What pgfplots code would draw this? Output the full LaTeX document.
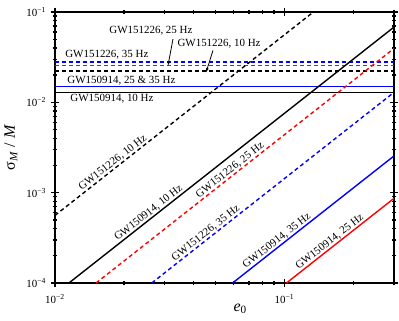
\documentclass[border=0pt]{standalone}
\usepackage{fontspec}
\setmainfont{Liberation Serif}
\usepackage{pgfplots}
\pgfplotsset{compat=1.18}
\usetikzlibrary{arrows.meta}
\definecolor{myblue}{RGB}{0,0,255}
\definecolor{myred}{RGB}{255,0,0}
\tikzset{lbl/.style={font=\fontsize{11}{13}\selectfont, inner sep=1bp}}
\begin{document}
\begin{tikzpicture}
\begin{axis}[
  xmode=log, ymode=log,
  scale only axis, width=339bp, height=271bp,
  xmin=0.01, xmax=0.3, ymin=1e-4, ymax=0.1,
  xtick={0.01,0.1}, xticklabels={10\textsuperscript{−2},10\textsuperscript{−1}},
  minor xtick={0.02,0.03,0.04,0.05,0.06,0.07,0.08,0.09,0.2,0.3},
  ytick={1e-4,1e-3,1e-2,1e-1},
  yticklabels={10\textsuperscript{−4},10\textsuperscript{−3},10\textsuperscript{−2},10\textsuperscript{−1}},
  minor ytick={2e-4,3e-4,4e-4,5e-4,6e-4,7e-4,8e-4,9e-4,2e-3,3e-3,4e-3,5e-3,6e-3,7e-3,8e-3,9e-3,2e-2,3e-2,4e-2,5e-2,6e-2,7e-2,8e-2,9e-2},
  tick align=center, major tick length=9bp, minor tick length=5bp,
  every tick/.style={black, line width=1.3bp},
  axis line style={line width=1.8bp},
  xticklabel style={font=\fontsize{11}{13}\selectfont, yshift=-3bp},
  yticklabel style={font=\fontsize{11}{13}\selectfont, xshift=-1bp},
  xlabel={\textit{e}\textsubscript{0}},
  ylabel={σ\textsubscript{\textit{M}} / \textit{M}},
  every axis x label/.style={at={(axis description cs:0.546,0)}, anchor=north, yshift=-17bp, font=\fontsize{16}{18}\selectfont},
  every axis y label/.style={at={(axis description cs:0,0.5)}, rotate=90, anchor=south, yshift=34bp, font=\fontsize{16}{18}\selectfont},
  clip mode=individual,
]
% horizontal lines
\addplot[black, line width=1.6bp] coordinates {(0.01,0.0128) (0.3,0.0128)};
\addplot[myblue, line width=1.6bp] coordinates {(0.01,0.0150) (0.3,0.0150)};
\addplot[black, line width=1.6bp, dash pattern=on 4bp off 3bp] coordinates {(0.01,0.0223) (0.3,0.0223)};
\addplot[myred, line width=1.6bp, dash pattern=on 4bp off 3bp] coordinates {(0.01,0.0255) (0.3,0.0255)};
\addplot[myblue, line width=1.6bp, dash pattern=on 4bp off 3bp] coordinates {(0.01,0.0278) (0.3,0.0278)};
% diagonal lines
\addplot[black, line width=1.4bp] coordinates {(0.0115,1e-4) (0.3,0.0681)};
\addplot[black, line width=1.4bp, dash pattern=on 4bp off 3bp] coordinates {(0.01,5.6e-4) (0.1336,0.1)};
\addplot[myred, line width=1.4bp, dash pattern=on 4bp off 3bp] coordinates {(0.0151,1e-4) (0.3,0.0395)};
\addplot[myblue, line width=1.4bp, dash pattern=on 4bp off 3bp] coordinates {(0.0264,1e-4) (0.3,0.0129)};
\addplot[myblue, line width=1.4bp] coordinates {(0.0594,1e-4) (0.3,2.55e-3)};
\addplot[myred, line width=1.4bp] coordinates {(0.102,1e-4) (0.3,8.65e-4)};
% rotated labels
\node[lbl, rotate=38.2, anchor=south] at (axis cs:0.0185,1.917e-3) {GW151226, 10 Hz};
\node[lbl, rotate=38.2, anchor=south] at (axis cs:0.0265,5.31e-4) {GW150914, 10 Hz};
\node[lbl, rotate=38.2, anchor=south] at (axis cs:0.060,1.58e-3) {GW151226, 25 Hz};
\node[lbl, rotate=38.2, anchor=south] at (axis cs:0.047,3.17e-4) {GW151226, 35 Hz};
\node[lbl, rotate=38.2, anchor=south] at (axis cs:0.096,2.61e-4) {GW150914, 35 Hz};
\node[lbl, rotate=38.2, anchor=south] at (axis cs:0.163,2.55e-4) {GW150914, 25 Hz};
% horizontal labels
\node[lbl] at (rel axis cs:0.283,0.930) {GW151226, 25 Hz};
\node[lbl] at (rel axis cs:0.484,0.882) {GW151226, 10 Hz};
\node[lbl] at (rel axis cs:0.153,0.841) {GW151226, 35 Hz};
\node[lbl] at (rel axis cs:0.196,0.745) {GW150914, 25 \& 35 Hz};
\node[lbl] at (rel axis cs:0.168,0.679) {GW150914, 10 Hz};
\draw[-{Latex[length=5bp,width=3bp]}, line width=0.8bp] (rel axis cs:0.348,0.900) -- (rel axis cs:0.333,0.800);
\draw[-{Latex[length=5bp,width=3bp]}, line width=0.8bp] (rel axis cs:0.466,0.858) -- (rel axis cs:0.445,0.775);
\coordinate (sw) at (rel axis cs:0,0);
\coordinate (ne) at (rel axis cs:1,1);
\end{axis}
\pgfresetboundingbox
\path ([xshift=-55bp,yshift=-38bp]sw) rectangle ([xshift=5bp,yshift=12bp]ne);
\end{tikzpicture}
\end{document}
